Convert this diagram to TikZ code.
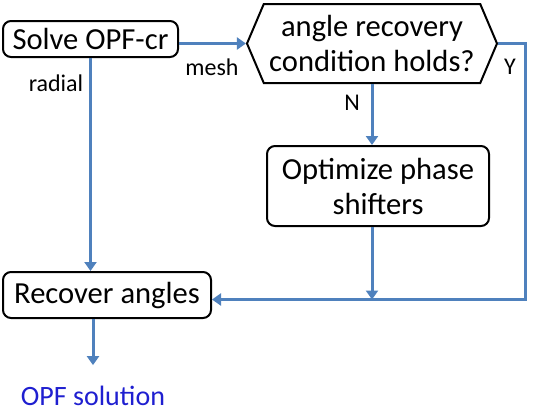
\documentclass[tikz,border=0pt]{standalone}
\usepackage{fontspec}
\setmainfont{Carlito}
\usetikzlibrary{positioning,arrows.meta,shapes.symbols}
\definecolor{flow}{HTML}{4F81BD}
\definecolor{outcome}{HTML}{1F1FD0}

\begin{document}
\begin{tikzpicture}[x=0.5pt,y=-0.5pt,
    stepbox/.style={draw, line width=1pt, rounded corners=4pt, align=center,
      font=\fontsize{15.3}{17.5}\selectfont, inner sep=0pt},
    testbox/.style={draw, line width=1pt, shape=signal, signal to=west and east,
      signal pointer angle=134, align=center, inner sep=0pt,
      font=\fontsize{15.3}{17.5}\selectfont, minimum width=125pt, minimum height=39.5pt},
    flowline/.style={flow, line width=1.5pt, -{Triangle[length=4.5pt,width=6pt]}},
    tag/.style={font=\fontsize{12}{14}\selectfont}]
  \useasboundingbox (0,0) rectangle (534,414);
  \node[stepbox, minimum width=87.5pt, minimum height=18pt] (solve) at (90.5,39) {Solve OPF-cr};
  \node[testbox] (check) at (372,43.5) {angle recovery\\condition holds?};
  \node[stepbox, minimum width=111pt, minimum height=40pt] (shift) at (378,186) {Optimize phase\\shifters};
  \node[stepbox, minimum width=104pt, minimum height=23pt] (recover) at (107,295) {Recover angles};
  \node[font=\fontsize{14}{16}\selectfont, text=outcome] (sol) at (93,396) {OPF solution};
  \coordinate (ybot) at (525,299.5);
  % branch labels
  \node[tag] (mesh) at (212,67) {mesh};
  \node[tag] (radial) at (56,83) {radial};
  \node[tag] (no) at (352,103) {N};
  \node[tag] (yes) at (510,67) {Y};
  % connectors
  \draw[flowline] (check.west -| solve.east) -- (check.west);
  \draw[flowline] (solve.south) -- (solve.south |- recover.north);
  \draw[flowline] (check.south) -- (check.south |- shift.north);
  \draw[flowline] (check.south |- shift.south) -- (check.south |- ybot);
  \draw[flowline] (check.east) -| (ybot) -- (recover.east |- ybot);
  \draw[flowline, shorten >=7pt] (recover.south -| sol) -- (sol.north);
\end{tikzpicture}
\end{document}
